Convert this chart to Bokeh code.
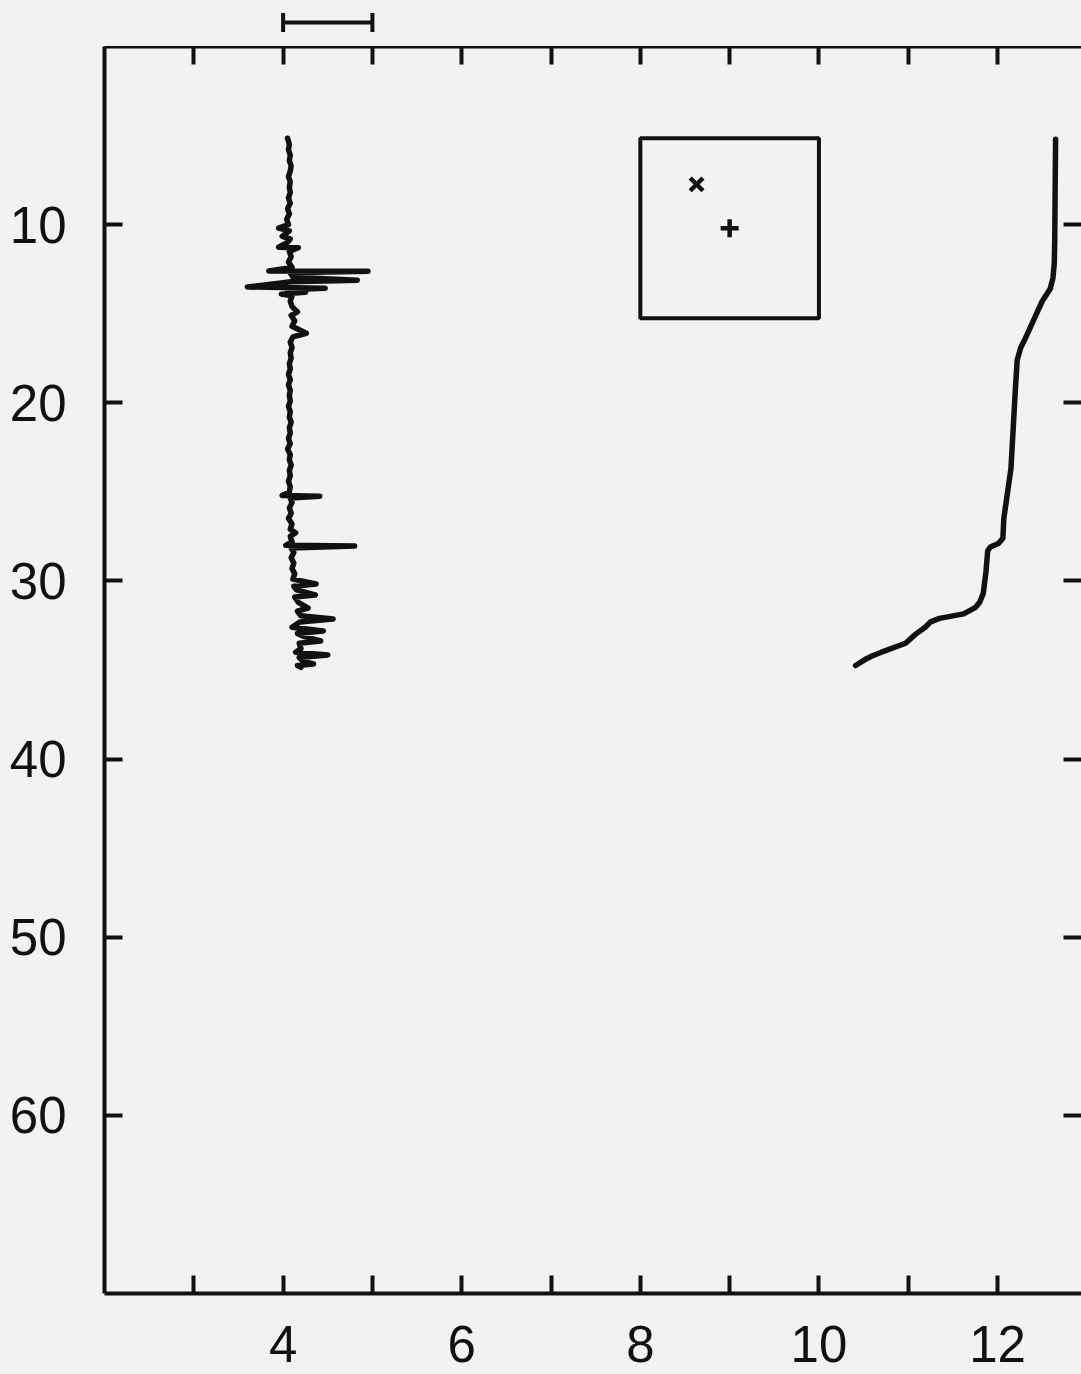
from bokeh.plotting import figure
from bokeh.models import Range1d, FixedTicker, LinearAxis, Whisker, TeeHead, ColumnDataSource
from bokeh.layouts import column
from bokeh.embed import file_html
from bokeh.resources import INLINE

# ---------------- data ----------------
# noisy trace (left): depth and value
trace_depth = [5.15, 5.5, 5.8, 6.1, 6.4, 6.7, 7.0, 7.3, 7.6, 7.9, 8.2, 8.5, 8.8, 9.1, 9.4, 9.7,
               10.0, 10.2, 10.35, 10.66, 10.8, 11.0, 11.27, 11.3, 11.5, 11.8, 12.1, 12.4,
               12.6, 12.62, 12.7, 12.95, 13.12, 13.2, 13.5, 13.57, 13.65, 13.8, 13.9, 14.0,
               14.3, 14.6, 14.9, 15.1, 15.4, 15.7, 16.1, 16.3, 16.6, 16.9, 17.2, 17.5, 17.8,
               18.1, 18.4, 18.7, 19.0, 19.3, 19.6, 19.9, 20.2, 20.5, 20.8, 21.1, 21.4, 21.7,
               22.0, 22.3, 22.6, 22.9, 23.2, 23.5, 23.8, 24.1, 24.4, 24.7, 25.0, 25.2, 25.24,
               25.35, 25.6, 25.9, 26.2, 26.5, 26.8, 27.1, 27.3, 27.5, 27.8, 28.0, 28.04, 28.15,
               28.4, 28.7, 29.0, 29.3, 29.6, 29.9, 30.17, 30.3, 30.5, 30.79, 30.9, 31.2, 31.52,
               31.7, 31.95, 32.14, 32.3, 32.6, 32.81, 32.95, 33.1, 33.37, 33.5, 33.8, 34.0,
               34.16, 34.3, 34.5, 34.66, 34.75, 34.85]
trace_value = [4.05, 4.07, 4.06, 4.08, 4.07, 4.09, 4.08, 4.06, 4.08, 4.07, 4.08, 4.06, 4.08, 4.05, 4.07, 4.04,
               4.06, 3.95, 4.07, 3.99, 4.08, 4.05, 3.95, 4.17, 4.07, 4.09, 4.06, 4.10,
               3.84, 4.95, 4.08, 4.11, 4.83, 4.09, 3.60, 4.47, 4.05, 4.25, 3.98, 4.10,
               4.08, 4.10, 4.16, 4.09, 4.13, 4.10, 4.26, 4.11, 4.08, 4.10, 4.08, 4.09, 4.07,
               4.08, 4.06, 4.08, 4.06, 4.08, 4.07, 4.08, 4.06, 4.08, 4.07, 4.09, 4.07, 4.08,
               4.06, 4.08, 4.05, 4.08, 4.07, 4.09, 4.07, 4.08, 4.06, 4.08, 4.07, 3.99, 4.41,
               4.08, 4.10, 4.07, 4.09, 4.06, 4.10, 4.08, 4.14, 4.08, 4.10, 4.03, 4.80, 4.09,
               4.12, 4.09, 4.12, 4.10, 4.13, 4.11, 4.37, 4.12, 4.15, 4.36, 4.13, 4.17, 4.28,
               4.16, 4.20, 4.56, 4.19, 4.10, 4.45, 4.16, 4.22, 4.42, 4.18, 4.20, 4.14,
               4.50, 4.18, 4.22, 4.34, 4.16, 4.20]

# smooth profile (right)
profile_depth = [5.2, 8.0, 11.0, 12.2, 13.0, 13.6, 14.3, 15.4, 16.4, 16.9, 17.6, 19.2, 21.0, 23.7,
                 26.5, 27.6, 27.9, 28.1, 28.3, 29.5, 30.7, 31.2, 31.5, 31.85, 32.1, 32.3, 32.6,
                 33.0, 33.5, 34.0, 34.2, 34.4, 34.75]
profile_value = [12.65, 12.645, 12.64, 12.635, 12.62, 12.59, 12.50, 12.40, 12.31, 12.26, 12.22, 12.20,
                 12.18, 12.15, 12.07, 12.06, 12.01, 11.92, 11.89, 11.87, 11.84, 11.80, 11.75, 11.62,
                 11.35, 11.25, 11.19, 11.08, 10.97, 10.70, 10.60, 10.52, 10.41]

# inset box and its two markers
box_x = [8.0, 10.0]
box_depth = [5.15, 15.25]
mark_x_value = [8.63]
mark_x_depth = [7.74]
mark_plus_value = [9.0]
mark_plus_depth = [10.2]

# scale bar above the frame
scale_bar = [4.0, 5.0]

# ticks
x_ticks = [3, 4, 5, 6, 7, 8, 9, 10, 11, 12]
x_tick_labels = {3: "", 4: "4", 5: "", 6: "6", 7: "", 8: "8", 9: "", 10: "10", 11: "", 12: "12"}
y_ticks = [10, 20, 30, 40, 50, 60]
y_tick_labels = {10: "10", 20: "20", 30: "30", 40: "40", 50: "50", 60: "60"}

x_limits = (2.0, 12.94)
y_limits = (70.0, 0.0)

# ---------------- styling ----------------
BG = "#f2f2f2"
INK = "#111111"
FONT = "Liberation Sans"
W = 1081
LEFT = 104
LW = 4


def blank_axis(ticks):
    ax = LinearAxis(ticker=FixedTicker(ticks=ticks))
    ax.major_label_overrides = {t: "" for t in ticks}
    ax.axis_line_color = None
    ax.major_tick_in = 18
    ax.major_tick_out = 0
    ax.minor_tick_line_color = None
    ax.major_tick_line_width = LW
    ax.major_tick_line_color = INK
    ax.major_label_text_font_size = "1px"
    ax.major_label_standoff = 0
    return ax


x_range = Range1d(*x_limits)

# top strip with the scale bar
p0 = figure(width=W, height=46, x_range=x_range, y_range=Range1d(0, 1),
            output_backend="svg", toolbar_location=None,
            x_axis_location=None, y_axis_location=None,
            min_border_left=LEFT, min_border_right=0, min_border_top=0, min_border_bottom=0)
p0.outline_line_color = None
p0.background_fill_color = BG
p0.border_fill_color = BG
p0.xgrid.visible = False
p0.ygrid.visible = False
p0.add_layout(blank_axis([]), "right")
bar_src = ColumnDataSource(dict(base=[0.52], lower=[scale_bar[0]], upper=[scale_bar[1]]))
p0.add_layout(Whisker(source=bar_src, base="base", lower="lower", upper="upper",
                      dimension="width", line_width=LW, line_color=INK,
                      lower_head=TeeHead(size=19, line_width=LW, line_color=INK),
                      upper_head=TeeHead(size=19, line_width=LW, line_color=INK)))

# main plot
p = figure(width=W, height=1328, x_range=x_range, y_range=Range1d(*y_limits),
           output_backend="svg", toolbar_location=None,
           min_border_left=LEFT, min_border_right=0, min_border_top=0, min_border_bottom=81)
p.outline_line_color = None
p.background_fill_color = BG
p.border_fill_color = BG
p.xgrid.visible = False
p.ygrid.visible = False

for ax, ticks, labels in ((p.xaxis[0], x_ticks, x_tick_labels), (p.yaxis[0], y_ticks, y_tick_labels)):
    ax.ticker = FixedTicker(ticks=ticks)
    ax.major_label_overrides = labels
    ax.axis_line_width = LW
    ax.axis_line_color = INK
    ax.major_tick_in = 18
    ax.major_tick_out = 0
    ax.major_tick_line_width = LW
    ax.major_tick_line_color = INK
    ax.minor_tick_line_color = None
    ax.major_label_text_font = FONT
    ax.major_label_text_font_size = "51px"
    ax.major_label_text_color = INK

p.xaxis[0].major_label_standoff = 32
p.xaxis[0].major_label_text_line_height = 0.75
p.yaxis[0].major_label_standoff = 38

top_axis = blank_axis(x_ticks)
top_axis.axis_line_color = INK
top_axis.axis_line_width = LW
p.add_layout(top_axis, "above")
p.add_layout(blank_axis(y_ticks), "right")

# data
p.line(trace_value, trace_depth, line_width=5.5, line_color=INK, line_join="round", line_cap="round")
p.line(profile_value, profile_depth, line_width=5.5, line_color=INK, line_join="round", line_cap="round")
p.quad(left=[box_x[0]], right=[box_x[1]], top=[box_depth[0]], bottom=[box_depth[1]],
       fill_color=None, line_color=INK, line_width=LW)
p.scatter(mark_x_value, mark_x_depth, marker="x", size=18, line_width=4.5, line_color=INK)
p.scatter(mark_plus_value, mark_plus_depth, marker="cross", size=18, line_width=4.5, line_color=INK)

layout = column(p0, p, spacing=0, background=BG)
open("out.html", "w").write(file_html(layout, INLINE))
